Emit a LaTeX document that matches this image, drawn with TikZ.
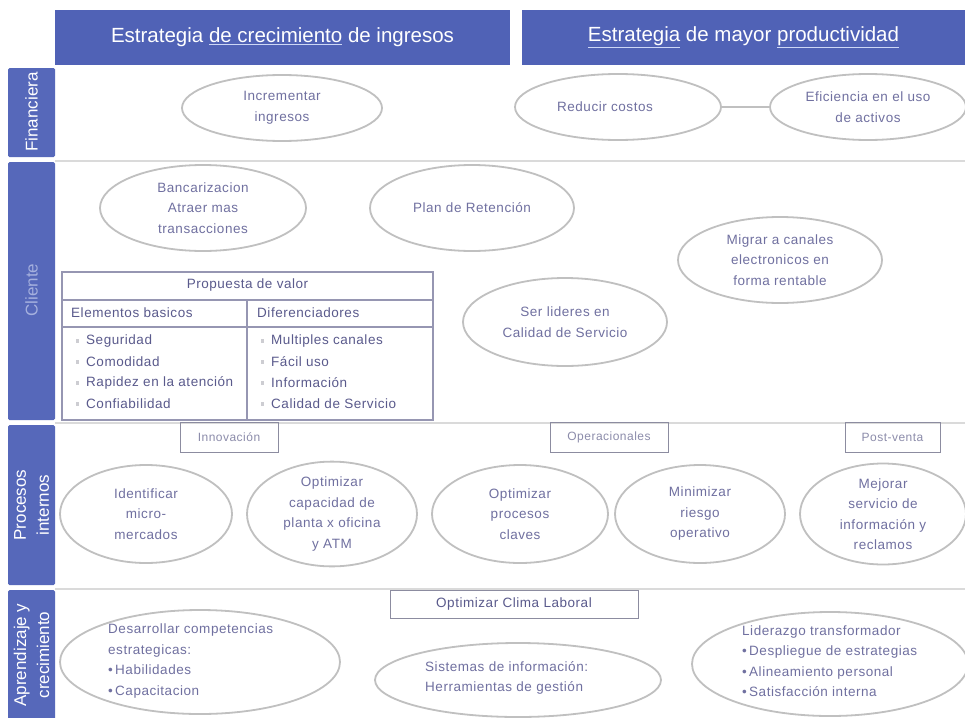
\documentclass[tikz,border=0pt]{standalone}
\usepackage{fontspec}
\setmainfont[LetterSpace=4]{Liberation Sans}
\newfontfamily\titlefont{Liberation Sans}
\usetikzlibrary{shapes.geometric}

\definecolor{bandblue}{RGB}{86,104,186}
\definecolor{headblue}{RGB}{80,98,182}
\definecolor{goaltext}{RGB}{112,112,160}
\definecolor{tabletext}{RGB}{90,90,140}
\definecolor{ovalline}{RGB}{192,192,192}
\definecolor{rowrule}{RGB}{218,218,218}
\definecolor{tableline}{RGB}{150,150,178}
\definecolor{tagline}{RGB}{140,140,160}
\definecolor{tagtext}{RGB}{140,140,170}
\definecolor{ulblue}{RGB}{205,215,245}
\definecolor{fadedlabel}{RGB}{165,176,222}
\definecolor{bulletgray}{RGB}{205,205,210}

\newcommand{\hdul}[1]{{\color{ulblue}\underline{\textcolor{white}{#1}}}}

\begin{document}
\begin{tikzpicture}[x=1pt,y=-1pt,
  header/.style={fill=headblue, draw=none, inner sep=0pt, text=white,
    font=\titlefont\fontsize{20.5}{24}\selectfont},
  band/.style={fill=bandblue, draw=none, rounded corners=1.5pt},
  bandlabel/.style={rotate=90, text=white, align=center,
    font=\titlefont\fontsize{17}{23}\selectfont},
  goal/.style={ellipse, draw=ovalline, line width=1.8pt, inner sep=0pt,
    text=goaltext, align=center, font=\fontsize{13.5}{20.5}\selectfont},
  goalnote/.style={anchor=west, text=goaltext, align=left, inner sep=0pt,
    font=\fontsize{13.5}{20.5}\selectfont},
  tag/.style={draw=tagline, line width=0.9pt, inner sep=0pt, text=tagtext,
    font=\fontsize{12}{14}\selectfont},
  cell/.style={inner sep=0pt, text=tabletext, font=\fontsize{13.5}{15}\selectfont},
  rowline/.style={draw=rowrule, line width=1.6pt},
  tabrule/.style={draw=tableline, line width=1.1pt}
]
\useasboundingbox (0,0) rectangle (965,717);
\fill[white] (0,0) rectangle (965,717);

% row separators
\coordinate (r1a) at (55,161);  \coordinate (r1b) at (965,161);
\coordinate (r2a) at (55,423);  \coordinate (r2b) at (965,423);
\coordinate (r3a) at (55,589);  \coordinate (r3b) at (965,589);
\draw[rowline] (r1a) -- (r1b);
\draw[rowline] (r2a) -- (r2b);
\draw[rowline] (r3a) -- (r3b);

% strategy headers
\node[header, minimum width=455pt, minimum height=55pt] (hleft) at (282.5,37.5)
  {Estrategia \hdul{de crecimiento} de ingresos};
\node[header, minimum width=443pt, minimum height=55pt] (hright) at (743.5,37.5)
  {\hdul{Estrategia} de mayor \hdul{productividad}};

% perspective bands
\fill[band] (8,68) rectangle (55,157);
\node[bandlabel] (lfin) at (31.5,112) {Financiera};
\fill[band] (8,162) rectangle (55,420);
\node[bandlabel, text=fadedlabel] (lcli) at (31.5,290) {Cliente};
\fill[band] (8,425) rectangle (55,585);
\node[bandlabel] (lpro) at (31.5,505) {Procesos\\internos};
\fill[band] (8,590) rectangle (55,722);
\node[bandlabel] (lapr) at (31.5,655) {Aprendizaje y\\crecimiento};

% financial objectives
\node[goal, minimum width=200pt, minimum height=66pt] (inc) at (282,108) {Incrementar\\ingresos};
\node[goal, minimum width=206pt, minimum height=66pt] (red) at (618,107) {Reducir costos\hspace*{26pt}};
\node[goal, minimum width=196pt, minimum height=66pt] (efi) at (868,107) {Eficiencia en el uso\\de activos};
\draw[draw=ovalline, line width=1.8pt] (red) -- (efi);

% customer objectives
\node[goal, minimum width=206pt, minimum height=86pt] (ban) at (203,208) {Bancarizacion\\Atraer mas\\transacciones};
\node[goal, minimum width=204pt, minimum height=86pt] (ret) at (472,208) {Plan de Retención};
\node[goal, minimum width=204pt, minimum height=86pt] (mig) at (780,260) {Migrar a canales\\electronicos en\\forma rentable};
\node[goal, minimum width=204pt, minimum height=88pt] (ser) at (565,322) {Ser lideres en\\Calidad de Servicio};

% value proposition table
\draw[tabrule] (62,272) rectangle (433,420);
\draw[tabrule] (62,300) -- (433,300);
\draw[tabrule] (62,327) -- (433,327);
\draw[tabrule] (247,300) -- (247,420);
\node[cell] (tprop) at (247.5,285) {Propuesta de valor};
\node[cell, anchor=west] (tbas) at (71,313) {Elementos basicos};
\node[cell, anchor=west] (tdif) at (257,313) {Diferenciadores};
\foreach \y/\a/\b [count=\i] in {341/Seguridad/Multiples canales,
    362/Comodidad/Fácil uso,
    383/Rapidez en la atención/Información,
    404/Confiabilidad/Calidad de Servicio}{
  \fill[bulletgray] (75.5,\y-1.8) rectangle ++(3.4,3.6);
  \fill[bulletgray] (260.5,\y-1.8) rectangle ++(3.4,3.6);
  \node[cell, anchor=west] (ta\i) at (86,\y) {\a};
  \node[cell, anchor=west] (tb\i) at (271,\y) {\b};
}

% internal process groups
\node[tag, minimum width=98pt, minimum height=30pt] (tinn) at (229,437) {Innovación};
\node[tag, minimum width=118pt, minimum height=30pt] (tope) at (609,437) {Operacionales};
\node[tag, minimum width=95pt, minimum height=30pt] (tpos) at (892.5,437) {Post-venta};

% internal process objectives
\node[goal, minimum width=172pt, minimum height=98pt] (ide) at (146,514) {Identificar\\micro-\\mercados};
\node[goal, minimum width=170pt, minimum height=98pt] (cap) at (332,514) {Optimizar\\capacidad de\\planta x oficina\\y ATM};
\node[goal, minimum width=176pt, minimum height=98pt] (opt) at (520,514) {Optimizar\\procesos\\claves};
\node[goal, minimum width=170pt, minimum height=98pt] (mnr) at (700,514) {Minimizar\\riesgo\\operativo};
\node[goal, minimum width=166pt, minimum height=98pt] (mej) at (883,514) {Mejorar\\servicio de\\información y\\reclamos};

% learning and growth
\node[tag, minimum width=248pt, minimum height=28pt, text=tabletext,
  font=\fontsize{13.5}{15}\selectfont] (clima) at (514,604) {Optimizar Clima Laboral};
\node[goal, minimum width=280pt, minimum height=104pt] (dev) at (200,662) {};
\node[goalnote] (devt) at (108,661) {Desarrollar competencias\\estrategicas:\\•\,Habilidades\\•\,Capacitacion};
\node[goal, minimum width=286pt, minimum height=74pt] (sis) at (518,680) {};
\node[goalnote] (sist) at (425,678) {Sistemas de información:\\Herramientas de gestión};
\node[goal, minimum width=276pt, minimum height=104pt] (lid) at (830,664) {};
\node[goalnote] (lidt) at (742,661) {Liderazgo transformador\\•\,Despliegue de estrategias\\•\,Alineamiento personal\\•\,Satisfacción interna};
\end{tikzpicture}
\end{document}
